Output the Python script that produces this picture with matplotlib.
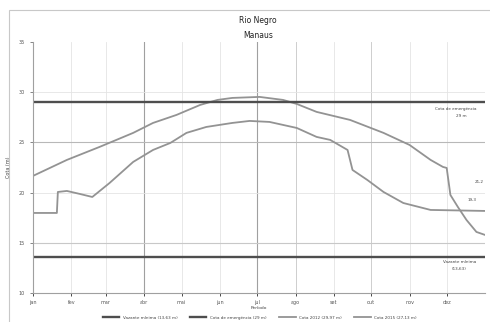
import matplotlib
matplotlib.use('Agg')
import matplotlib.pyplot as plt
from matplotlib.patches import Rectangle

# --- data (day of year, stage in m) ---
months = ['jan', 'fev', 'mar', 'abr', 'mai', 'jun', 'jul', 'ago', 'set', 'out', 'nov', 'dez']
month_start = [0, 31, 59, 90, 120, 151, 181, 212, 243, 273, 304, 334]

upper_day = [0, 27.5, 54, 81, 97, 116, 135, 149, 161, 183, 202, 213, 229, 256, 283,
             304, 321, 331, 334, 337, 343, 350, 358, 365]
upper_lvl = [21.65, 23.25, 24.55, 25.94, 26.93, 27.73, 28.72, 29.22, 29.42, 29.52, 29.22,
             28.82, 28.03, 27.23, 25.94, 24.74, 23.25, 22.55, 22.45, 19.76, 18.57, 17.27,
             16.08, 15.78]

lower_day = [0, 19.4, 20.2, 27.5, 38, 48, 62, 81, 97, 111, 124, 140, 161, 175, 191, 213,
             229, 240, 254, 258, 270, 283, 299, 321, 365]
lower_lvl = [17.97, 17.97, 20.06, 20.16, 19.86, 19.56, 20.96, 23.05, 24.24, 24.94, 25.94,
             26.53, 26.93, 27.13, 27.03, 26.43, 25.54, 25.24, 24.24, 22.25, 21.25, 20.06,
             18.96, 18.27, 18.17]

emergencia = 29.0
vazante_min = 13.63

# --- figure ---
fig = plt.figure(figsize=(4.9, 3.22), dpi=100, facecolor='white')
ax = fig.add_axes([0.067, 0.090, 0.923, 0.780])

grid_c = '#e4e4e4'
for d in month_start[1:]:
    ax.axvline(d, color=grid_c, lw=0.6, zorder=0)
for d in [90, 181]:
    ax.axvline(d, color='#a0a0a0', lw=0.8, zorder=0)
for d in [212, 273]:
    ax.axvline(d, color='#cfcfcf', lw=0.7, zorder=0)
for yv in [20, 30]:
    ax.axhline(yv, color=grid_c, lw=0.6, zorder=0)
ax.axhline(25, color='#b8b8b8', lw=0.8, zorder=0)
ax.axhline(15, color='#c8c8c8', lw=0.8, zorder=0)

l1, = ax.plot(upper_day, upper_lvl, color='#939393', lw=1.3, label='Cota 2012 (29,97 m)')
l2, = ax.plot(lower_day, lower_lvl, color='#939393', lw=1.3, label='Cota 2015 (27,13 m)')
h1 = ax.axhline(emergencia, color='#4e4e4e', lw=1.7, label='Cota de emergência (29 m)')
h2 = ax.axhline(vazante_min, color='#4e4e4e', lw=1.7, label='Vazante mínima (13,63 m)')

ax.set_xlim(0, 365)
ax.set_ylim(10, 35)
ax.set_xticks(month_start)
ax.set_xticklabels(months, fontsize=3.5, color='#555555')
ax.set_yticks([10, 15, 20, 25, 30, 35])
ax.tick_params(axis='y', labelsize=3.5, colors='#555555', length=2, width=0.5)
ax.tick_params(axis='x', length=2, width=0.5, pad=3)
for side in ['top', 'right']:
    ax.spines[side].set_visible(False)
for side in ['left', 'bottom']:
    ax.spines[side].set_color('#a0a0a0')
    ax.spines[side].set_linewidth(0.8)

ax.set_ylabel('Cota (m)', fontsize=3.5, color='#444444', labelpad=6)
ax.set_xlabel('Período', fontsize=3.2, color='#444444', labelpad=0.5)

# right-hand annotations
ax.text(358, 28.3, 'Cota de emergência', fontsize=3, ha='right', va='center', color='#444444')
ax.text(350, 27.6, '29 m', fontsize=3, ha='right', va='center', color='#444444')
ax.text(364, 21.1, '21,2', fontsize=3, ha='right', va='center', color='#444444')
ax.text(358, 19.3, '19,3', fontsize=3, ha='right', va='center', color='#444444')
ax.text(358, 13.1, 'Vazante mínima', fontsize=3, ha='right', va='center', color='#444444')
ax.text(350, 12.4, '(13,63)', fontsize=3, ha='right', va='center', color='#444444')

fig.text(0.527, 0.935, 'Rio Negro', fontsize=5.5, ha='center', va='center', color='#222222')
fig.text(0.527, 0.890, 'Manaus', fontsize=5.5, ha='center', va='center', color='#222222')

fig.legend(handles=[h2, h1, l1, l2], loc='lower center', ncol=4, fontsize=3,
           frameon=False, bbox_to_anchor=(0.53, -0.005), handlelength=4,
           columnspacing=3, labelcolor='#444444')

# outer chart frame (scanned border)
fig.patches.append(Rectangle((0.018, -0.02), 1.1, 0.99, transform=fig.transFigure,
                             fill=False, edgecolor='#c8c8c8', lw=0.8))

fig.savefig('out.png', dpi=100, facecolor='white')
